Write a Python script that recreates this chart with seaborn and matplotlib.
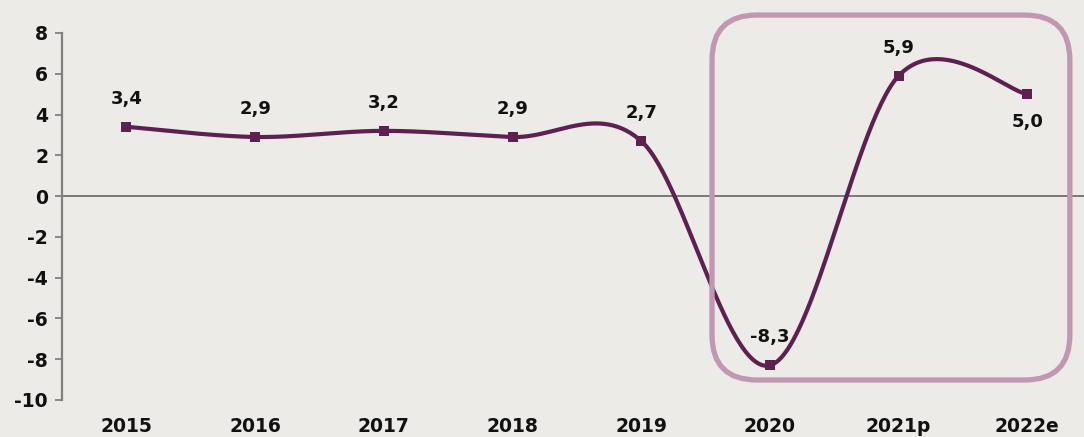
import numpy as np
import pandas as pd
import matplotlib.pyplot as plt
import seaborn as sns
from matplotlib.patches import FancyBboxPatch

# Chart values
years = ['2015', '2016', '2017', '2018', '2019', '2020', '2021p', '2022e']
growth = [3.4, 2.9, 3.2, 2.9, 2.7, -8.3, 5.9, 5.0]
labels = ['3,4', '2,9', '3,2', '2,9', '2,7', '-8,3', '5,9', '5,0']
label_below = [False, False, False, False, False, False, False, True]

bg = '#ECEBE7'
purple = '#5E2050'
box_col = '#C197B1'

sns.set_style("white")
plt.rcParams['font.family'] = ['DejaVu Sans']
plt.rcParams['axes.unicode_minus'] = False

fig = plt.figure(figsize=(10.84, 4.37), dpi=100, facecolor=bg)
ax = fig.add_axes([0.0572, 0.0847, 0.9428, 0.8398])
ax.set_facecolor(bg)

# Excel-like smoothed line (Catmull-Rom / Bezier)
xs = np.arange(len(growth), dtype=float)
ys = np.array(growth, dtype=float)
pts = np.column_stack([xs, ys])
padded = np.vstack([pts[0], pts, pts[-1]])
curve = []
t = np.linspace(0, 1, 60)[:, None]
for i in range(len(pts) - 1):
    p0, p1, p2, p3 = padded[i], padded[i + 1], padded[i + 2], padded[i + 3]
    b1 = p1 + (p2 - p0) / 6
    b2 = p2 - (p3 - p1) / 6
    seg = ((1 - t) ** 3) * p1 + 3 * ((1 - t) ** 2) * t * b1 + 3 * (1 - t) * t ** 2 * b2 + t ** 3 * p2
    curve.append(seg)
curve = np.vstack(curve)
smooth = pd.DataFrame({'x': curve[:, 0], 'y': curve[:, 1]})
df = pd.DataFrame({'x': xs, 'y': ys})

ax.axhline(0, color='#707070', lw=1.3, zorder=1)
sns.lineplot(data=smooth, x='x', y='y', ax=ax, color=purple, lw=3.0, sort=False, zorder=3)
sns.scatterplot(data=df, x='x', y='y', ax=ax, marker='s', s=58, color=purple,
                edgecolor=purple, linewidth=0, zorder=4)

for i, (v, lab) in enumerate(zip(growth, labels)):
    off = -28 if label_below[i] else 28
    ax.annotate(lab, (i, v), xytext=(0, off), textcoords='offset pixels',
                ha='center', va='center', fontsize=13, fontweight='bold', color='#111111')

ax.set_xlim(-0.5, 7.44)
ax.set_ylim(-10, 8)
ax.set_yticks(range(-10, 9, 2))
ax.set_xticks(xs)
ax.set_xticklabels(years)
ax.set_xlabel('')
ax.set_ylabel('')
for s in ['top', 'right', 'bottom']:
    ax.spines[s].set_visible(False)
ax.spines['left'].set_color('#808080')
ax.spines['left'].set_linewidth(1.6)
ax.tick_params(axis='y', left=True, direction='out', length=5, width=1.3, color='#808080',
               pad=5, labelsize=13.5)
ax.tick_params(axis='x', bottom=False, length=0, pad=12, labelsize=13.5)
for lab in ax.get_xticklabels() + ax.get_yticklabels():
    lab.set_fontweight('bold')
    lab.set_color('#111111')

# highlight box round 2020-2022e
x0, y0 = ax.transData.transform((4.55, -9.02))
x1, y1 = ax.transData.transform((7.33, 8.88))
box = FancyBboxPatch((x0, y0), x1 - x0, y1 - y0, boxstyle='round,pad=0,rounding_size=45',
                     transform=None, fill=False, edgecolor=box_col, lw=3.8, zorder=2, clip_on=False)
fig.patches.append(box)

fig.savefig('out.png', dpi=100, facecolor=bg)
